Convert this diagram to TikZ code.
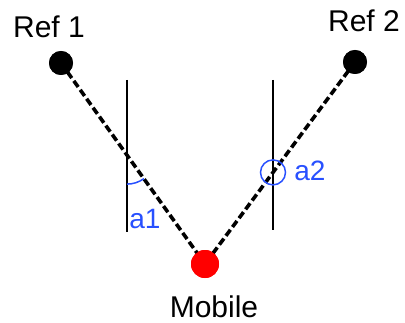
\documentclass[tikz,border=0pt]{standalone}
\usepackage{fontspec}
\setmainfont{Liberation Sans}
\definecolor{anglblue}{RGB}{40,80,255}
\definecolor{mobred}{RGB}{255,0,0}
\begin{document}
\begin{tikzpicture}[x=1pt,y=1pt,
  refdot/.style={circle,fill=black,inner sep=0pt,minimum size=24pt},
  mobdot/.style={circle,fill=mobred,inner sep=0pt,minimum size=28pt},
  lbl/.style={inner sep=0pt,anchor=base,font=\fontsize{30}{36}\selectfont},
  anglbl/.style={inner sep=0pt,anchor=base,text=anglblue,font=\fontsize{28}{34}\selectfont},
  rangeline/.style={line width=3.6pt,dash pattern=on 7.5pt off 3.5pt},
  axisline/.style={line width=1.5pt},
  anglearc/.style={draw=anglblue,line width=1.5pt}]
\useasboundingbox (0,0) rectangle (405,322);
% vertical reference lines
\coordinate (v1t) at (127,242);
\coordinate (v1b) at (127,90);
\coordinate (v2t) at (273,242);
\coordinate (v2b) at (273,92);
\draw[axisline] (v1t) -- (v1b);
\draw[axisline] (v2t) -- (v2b);
% nodes
\node[refdot] (r1) at (61,259) {};
\node[refdot] (r2) at (355,260) {};
\node[mobdot] (m) at (205,58) {};
% dashed ranges
\draw[rangeline] (r1.center) -- (m.center);
\draw[rangeline] (r2.center) -- (m.center);
\node[refdot] at (r1) {};
\node[refdot] at (r2) {};
\node[mobdot] at (m) {};
% angles
\coordinate (i1) at (127,166.9);
\coordinate (i2) at (273,149.6);
\draw[anglearc] (i1) ++(-90:29) arc[start angle=-90,end angle=-54.4,radius=29];
\draw[anglearc] (i2) circle[radius=12.5];
% labels
\node[lbl] (t1) at (49,284) {Ref 1};
\node[lbl] (t2) at (364,290) {Ref 2};
\node[lbl] (tm) at (214,5) {Mobile};
\node[anglbl] (ta1) at (145,94) {a1};
\node[anglbl] (ta2) at (310,142) {a2};
\end{tikzpicture}
\end{document}
